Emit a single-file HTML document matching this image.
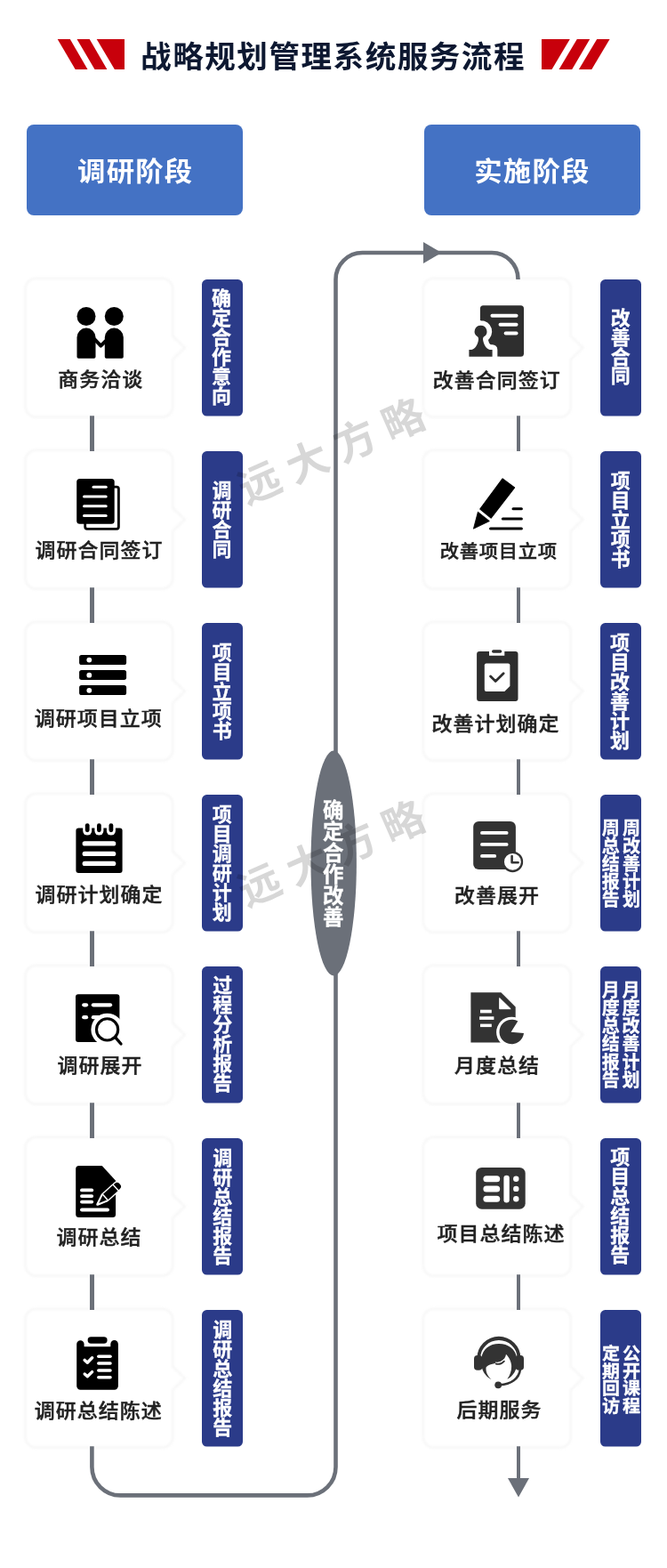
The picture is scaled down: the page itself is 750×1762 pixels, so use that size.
<!DOCTYPE html>
<html lang="zh-CN">
<head>
<meta charset="utf-8">
<meta name="viewport" content="width=750">
<title>战略规划管理系统服务流程</title>
<style>
*{margin:0;padding:0;box-sizing:border-box}
html,body{width:750px;height:1762px;background:#fff;overflow:hidden}
body{font-family:"Liberation Sans","Noto Sans CJK SC",sans-serif}
#page{position:relative;width:750px;height:1762px;overflow:hidden;background:#fff;will-change:transform;-webkit-font-smoothing:antialiased}
#page>svg{position:absolute;left:0;top:0}
ol{list-style:none}
.t{position:absolute;white-space:nowrap;line-height:1;transform-origin:0 0;font-style:normal}
.cap{font-size:23px;letter-spacing:1px;font-weight:500;-webkit-text-stroke:.45px currentColor;transform:scale(1,.955)}
.caps{font-size:21.3px;letter-spacing:.7px;font-weight:500;-webkit-text-stroke:.45px currentColor;transform:scale(1,.955)}
.title{font-size:34.6px;letter-spacing:1.5px;font-weight:700}
.stage{font-size:31.4px;letter-spacing:1.15px;font-weight:700;transform:scale(1,.945)}
.v22{width:22px;font-size:22px;line-height:22px;font-weight:700;white-space:normal;word-break:break-all;text-align:center;-webkit-text-stroke:.3px currentColor}
.v20{width:20px;font-size:20px;line-height:20px;font-weight:700;white-space:normal;word-break:break-all;text-align:center;-webkit-text-stroke:.3px currentColor}
.vell{width:23.5px;font-size:23.5px;line-height:24px;font-weight:700;white-space:normal;word-break:break-all;text-align:center;-webkit-text-stroke:.3px currentColor}
.title{color:#0d1831}
.stage,.lab{color:#fff}
.cap,.caps{color:#222222}
.wm{position:absolute;white-space:nowrap;font-size:47px;font-weight:700;letter-spacing:11.8px;text-indent:11.8px;color:rgba(0,0,0,.155);transform:rotate(-23.7deg);transform-origin:50% 50%;width:300px;text-align:center;height:60px;line-height:60px}
</style>
</head>
<body>
<div id="page">
<svg width="750" height="1762" viewBox="0 0 750 1762" aria-hidden="true">
<g fill="#c8000b"><polygon points="64.7,44 78.8,44 98.5,78 84.7,78"/><polygon points="86.5,44 100.7,44 120.4,78 106.5,78"/><polygon points="108.7,44 140,44 140,78 128.9,78"/><polygon points="609,44 640.8,44 620.5,78 609,78"/><polygon points="648.8,44 663.2,44 643.2,78 628.5,78"/><polygon points="671.2,44 685.6,44 665.3,78 650.9,78"/></g>
<g fill="#4472c4"><rect x="30" y="140" width="243" height="102" rx="8"/><rect x="477" y="140" width="243" height="102" rx="8"/></g>
<g fill="#fff" stroke="#f7f7f7" stroke-width="2.6" style="filter:blur(0.8px)"><path d="M40.5,312.7H182.3A12,12 0 0 1 194.3,324.7V377.7L207.9,390.7L194.3,403.7V456.6A12,12 0 0 1 182.3,468.6H40.5A12,12 0 0 1 28.5,456.6V324.7A12,12 0 0 1 40.5,312.7Z"/><path d="M40.5,505.7H182.3A12,12 0 0 1 194.3,517.7V570.7L207.9,583.7L194.3,596.7V649.6A12,12 0 0 1 182.3,661.6H40.5A12,12 0 0 1 28.5,649.6V517.7A12,12 0 0 1 40.5,505.7Z"/><path d="M40.5,698.7H182.3A12,12 0 0 1 194.3,710.7V763.7L207.9,776.7L194.3,789.7V842.6A12,12 0 0 1 182.3,854.6H40.5A12,12 0 0 1 28.5,842.6V710.7A12,12 0 0 1 40.5,698.7Z"/><path d="M40.5,891.7H182.3A12,12 0 0 1 194.3,903.7V956.7L207.9,969.7L194.3,982.7V1035.6A12,12 0 0 1 182.3,1047.6H40.5A12,12 0 0 1 28.5,1035.6V903.7A12,12 0 0 1 40.5,891.7Z"/><path d="M40.5,1084.7H182.3A12,12 0 0 1 194.3,1096.7V1149.7L207.9,1162.7L194.3,1175.7V1228.6A12,12 0 0 1 182.3,1240.6H40.5A12,12 0 0 1 28.5,1228.6V1096.7A12,12 0 0 1 40.5,1084.7Z"/><path d="M40.5,1277.7H182.3A12,12 0 0 1 194.3,1289.7V1342.7L207.9,1355.7L194.3,1368.7V1421.6A12,12 0 0 1 182.3,1433.6H40.5A12,12 0 0 1 28.5,1421.6V1289.7A12,12 0 0 1 40.5,1277.7Z"/><path d="M40.5,1470.7H182.3A12,12 0 0 1 194.3,1482.7V1535.7L207.9,1548.7L194.3,1561.7V1614.6A12,12 0 0 1 182.3,1626.6H40.5A12,12 0 0 1 28.5,1614.6V1482.7A12,12 0 0 1 40.5,1470.7Z"/><path d="M487.8,312.7H629.9A12,12 0 0 1 641.9,324.7V377.7L655.5,390.7L641.9,403.7V456.6A12,12 0 0 1 629.9,468.6H487.8A12,12 0 0 1 475.8,456.6V324.7A12,12 0 0 1 487.8,312.7Z"/><path d="M487.8,505.7H629.9A12,12 0 0 1 641.9,517.7V570.7L655.5,583.7L641.9,596.7V649.6A12,12 0 0 1 629.9,661.6H487.8A12,12 0 0 1 475.8,649.6V517.7A12,12 0 0 1 487.8,505.7Z"/><path d="M487.8,698.7H629.9A12,12 0 0 1 641.9,710.7V763.7L655.5,776.7L641.9,789.7V842.6A12,12 0 0 1 629.9,854.6H487.8A12,12 0 0 1 475.8,842.6V710.7A12,12 0 0 1 487.8,698.7Z"/><path d="M487.8,891.7H629.9A12,12 0 0 1 641.9,903.7V956.7L655.5,969.7L641.9,982.7V1035.6A12,12 0 0 1 629.9,1047.6H487.8A12,12 0 0 1 475.8,1035.6V903.7A12,12 0 0 1 487.8,891.7Z"/><path d="M487.8,1084.7H629.9A12,12 0 0 1 641.9,1096.7V1149.7L655.5,1162.7L641.9,1175.7V1228.6A12,12 0 0 1 629.9,1240.6H487.8A12,12 0 0 1 475.8,1228.6V1096.7A12,12 0 0 1 487.8,1084.7Z"/><path d="M487.8,1277.7H629.9A12,12 0 0 1 641.9,1289.7V1342.7L655.5,1355.7L641.9,1368.7V1421.6A12,12 0 0 1 629.9,1433.6H487.8A12,12 0 0 1 475.8,1421.6V1289.7A12,12 0 0 1 487.8,1277.7Z"/><path d="M487.8,1470.7H629.9A12,12 0 0 1 641.9,1482.7V1535.7L655.5,1548.7L641.9,1561.7V1614.6A12,12 0 0 1 629.9,1626.6H487.8A12,12 0 0 1 475.8,1614.6V1482.7A12,12 0 0 1 487.8,1470.7Z"/></g>
<g fill="#2b3b89"><rect x="227" y="314.1" width="46" height="153.5" rx="5.5"/><rect x="227" y="507.1" width="46" height="153.5" rx="5.5"/><rect x="227" y="700.1" width="46" height="153.5" rx="5.5"/><rect x="227" y="893.1" width="46" height="153.5" rx="5.5"/><rect x="227" y="1086.1" width="46" height="153.5" rx="5.5"/><rect x="227" y="1279.1" width="46" height="153.5" rx="5.5"/><rect x="227" y="1472.1" width="46" height="153.5" rx="5.5"/><rect x="675" y="314.1" width="46" height="153.5" rx="5.5"/><rect x="675" y="507.1" width="46" height="153.5" rx="5.5"/><rect x="675" y="700.1" width="46" height="153.5" rx="5.5"/><rect x="675" y="893.1" width="46" height="153.5" rx="5.5"/><rect x="675" y="1086.1" width="46" height="153.5" rx="5.5"/><rect x="675" y="1279.1" width="46" height="153.5" rx="5.5"/><rect x="675" y="1472.1" width="46" height="153.5" rx="5.5"/></g>
<g id="ico-L1"><g fill="#000"><circle cx="97" cy="355.5" r="10.5"/><circle cx="128.3" cy="355.5" r="10.5"/><path d="M86.5,379.1a10.5,10.5 0 0 1 21,0V401a1.8,1.8 0 0 1 -1.8,1.8H88.3a1.8,1.8 0 0 1 -1.8,-1.8Z"/><path d="M117.8,379.1a10.5,10.5 0 0 1 21,0V401a1.8,1.8 0 0 1 -1.8,1.8H119.6a1.8,1.8 0 0 1 -1.8,-1.8Z"/><path d="M106,380.8L113.4,388.6L119,383" fill="none" stroke="#000" stroke-width="4" stroke-linejoin="round"/></g></g>
<g id="ico-L2"><rect x="95.7" y="547.1" width="37.7" height="47.2" rx="2.2" fill="#fff" stroke="#000" stroke-width="2.8"/><rect x="86.2" y="537.9" width="42.5" height="50.9" rx="3.5" fill="#000"/><g stroke="#fff" stroke-width="3" stroke-linecap="round"><line x1="105" y1="547.2" x2="119.2" y2="547.2"/><line x1="94.5" y1="558.1" x2="119.2" y2="558.1"/><line x1="94.5" y1="568.7" x2="119.2" y2="568.7"/><line x1="94.5" y1="579.5" x2="119.2" y2="579.5"/></g></g>
<g id="ico-L3"><g fill="#000"><rect x="89.1" y="736" width="53" height="11.1" rx="2.6"/><rect x="89.1" y="753" width="53" height="11.1" rx="2.6"/><rect x="89.1" y="770.1" width="53" height="11" rx="2.6"/></g><g fill="#fff"><circle cx="100.3" cy="741.6" r="2.9"/><circle cx="100.3" cy="758.7" r="2.9"/><circle cx="100.3" cy="775.8" r="2.9"/></g></g>
<g id="ico-L4"><rect x="85.4" y="930.6" width="52.2" height="50.3" rx="3" fill="#000"/><g stroke="#fff" stroke-width="10" stroke-linecap="round"><line x1="98.2" y1="927" x2="98.2" y2="933.6"/><line x1="111.4" y1="927" x2="111.4" y2="933.6"/><line x1="124.9" y1="927" x2="124.9" y2="933.6"/></g><g stroke="#000" stroke-width="4.8" stroke-linecap="round"><line x1="98.2" y1="927.6" x2="98.2" y2="932.8"/><line x1="111.4" y1="927.6" x2="111.4" y2="932.8"/><line x1="124.9" y1="927.6" x2="124.9" y2="932.8"/></g><g stroke="#fff" stroke-width="5.2" stroke-linecap="round"><line x1="95.2" y1="947.9" x2="127.7" y2="947.9"/><line x1="95.2" y1="959.4" x2="127.7" y2="959.4"/><line x1="95.2" y1="970.4" x2="127.7" y2="970.4"/></g></g>
<g id="ico-L5"><rect x="85" y="1117.2" width="49.4" height="53.7" rx="3" fill="#000"/><g stroke="#fff" stroke-width="4.3" stroke-linecap="round"><line x1="94.3" y1="1129.3" x2="97" y2="1129.3"/><line x1="104.9" y1="1129.3" x2="124" y2="1129.3"/><line x1="94.3" y1="1143.2" x2="97" y2="1143.2"/><line x1="104.9" y1="1143.2" x2="114" y2="1143.2"/></g><circle cx="120.6" cy="1156.9" r="18.2" fill="#fff"/><circle cx="120.6" cy="1156.9" r="12.1" fill="#fff" stroke="#000" stroke-width="3.1"/><line x1="129.6" y1="1165.6" x2="136" y2="1173" stroke="#000" stroke-width="3.3" stroke-linecap="round"/></g>
<g id="ico-L6"><path d="M88.7,1309.9H114.7L130.1,1326.8V1364.5a3.5,3.5 0 0 1 -3.5,3.5H88.7a3.5,3.5 0 0 1 -3.5,-3.5V1313.4a3.5,3.5 0 0 1 3.5,-3.5Z" fill="#000"/><g stroke="#fff" stroke-width="3.9" stroke-linecap="round"><line x1="92" y1="1337.4" x2="103.2" y2="1337.4"/><line x1="92" y1="1344.1" x2="103.2" y2="1344.1"/><line x1="92" y1="1350.6" x2="103.2" y2="1350.6"/><line x1="92" y1="1359.5" x2="121" y2="1359.5"/></g><g transform="translate(109.3,1353.7) rotate(-42.5)"><path d="M0.5,0L11.5,-4.2V4.2Z M13,-4.2H27.6V4.2H13Z M29,-4.2H30.6a3.8,3.8 0 0 1 3.8,3.8V0.4a3.8,3.8 0 0 1 -3.8,3.8H29Z" fill="#fff" stroke="#fff" stroke-width="2.8" stroke-linejoin="round"/><path d="M2.6,0L11.5,-3.5V3.5Z M13,-4.2H27.6V4.2H13Z M29,-4.2H30.6a3.8,3.8 0 0 1 3.8,3.8V0.4a3.8,3.8 0 0 1 -3.8,3.8H29Z" fill="#000"/></g></g>
<g id="ico-L7"><path d="M90.4,1506.2a4.2,4.2 0 0 1 4.2,4.2V1513.2H124.3V1510.4a4.3,4.3 0 0 1 8.6,0V1557.5a4.2,4.2 0 0 1 -4.2,4.2H90.4a4.2,4.2 0 0 1 -4.2,-4.2V1510.4a4.2,4.2 0 0 1 4.2,-4.2Z" fill="#000"/><rect x="98.6" y="1502.3" width="22" height="7.4" rx="3.7" fill="#000"/><g stroke="#fff" stroke-width="3.5" stroke-linecap="round"><line x1="110.8" y1="1524.3" x2="124" y2="1524.3"/><line x1="110.8" y1="1532.1" x2="124" y2="1532.1"/><line x1="110.8" y1="1540" x2="124" y2="1540"/><line x1="110.8" y1="1547.8" x2="124" y2="1547.8"/></g><g fill="none" stroke="#fff" stroke-width="3.4" stroke-linecap="round" stroke-linejoin="round"><path d="M95.2,1528.4L98.3,1531.2L103.6,1525.8"/><path d="M95.2,1544L98.3,1546.8L103.6,1541.6"/></g></g>
<g id="ico-R1"><rect x="539.9" y="343.3" width="49.1" height="57.5" rx="3.5" fill="#2e2e2e"/><g stroke="#fff" stroke-width="3.9" stroke-linecap="round"><line x1="553.4" y1="354.7" x2="580.6" y2="354.7"/><line x1="562.5" y1="364.7" x2="580.6" y2="364.7"/><line x1="568.6" y1="374.5" x2="580.6" y2="374.5"/></g><path id="stampR1" d="M540.6,365.7a6.8,6.8 0 0 1 3.6,12.6c-1.2,0.9 -1.4,2.6 -0.9,4.6c1,4.6 3.6,9.2 7.6,10H553.6V400.8H527.4V392.9H530.2c4,-0.8 6.6,-5.4 7.6,-10c0.5,-2 0.3,-3.7 -0.9,-4.6a6.8,6.8 0 0 1 3.7,-12.6Z" fill="#fff" stroke="#fff" stroke-width="11.5" stroke-linejoin="round"/><rect x="520" y="400.8" width="42" height="8" fill="#fff"/><path d="M540.6,365.7a6.8,6.8 0 0 1 3.6,12.6c-1.2,0.9 -1.4,2.6 -0.9,4.6c1,4.6 3.6,9.2 7.6,10H553.6V400.8H527.4V392.9H530.2c4,-0.8 6.6,-5.4 7.6,-10c0.5,-2 0.3,-3.7 -0.9,-4.6a6.8,6.8 0 0 1 3.7,-12.6Z" fill="#2e2e2e"/></g>
<g id="ico-R2"><g fill="#000"><path d="M565.1,537.9L578.6,547.9L552.1,582.1L539.8,572.1Z" stroke="#000" stroke-width="1.2" stroke-linejoin="round"/><path d="M537.4,575.2L550.4,585.6L532.4,594.2Z" stroke="#000" stroke-width="0.8" stroke-linejoin="round"/></g><g stroke="#000" stroke-width="3" stroke-linecap="round"><line x1="577" y1="571.7" x2="586.4" y2="571.7"/><line x1="565.3" y1="583.1" x2="586.4" y2="583.1"/><line x1="551.5" y1="594.1" x2="586.4" y2="594.1"/></g></g>
<g id="ico-R3"><path d="M539.1,732.1H550V736.8H567.3V732.1H579.5a3,3 0 0 1 3,3V785a3,3 0 0 1 -3,3H539.1a3,3 0 0 1 -3,-3V735.1a3,3 0 0 1 3,-3Z" fill="#2e2e2e"/><rect x="553" y="730.2" width="11.3" height="3.6" rx="1.8" fill="#2e2e2e"/><path d="M546.8,745.5H571.4a2,2 0 0 1 2,2V771.1L567.3,777.1H546.8a2,2 0 0 1 -2,-2V747.5a2,2 0 0 1 2,-2Z" fill="#fff"/><path d="M551.6,759.9L557.2,765.6L566.1,756.8" fill="none" stroke="#2e2e2e" stroke-width="2.8" stroke-linecap="round" stroke-linejoin="round"/></g>
<g id="ico-R4"><rect x="532.2" y="922.9" width="47.7" height="54" rx="6" fill="#333"/><g stroke="#fff" stroke-width="3.9" stroke-linecap="round"><line x1="542" y1="935.9" x2="569.6" y2="935.9"/><line x1="542" y1="948.9" x2="569.6" y2="948.9"/><line x1="542" y1="961.9" x2="556.2" y2="961.9"/></g><circle cx="576.4" cy="968.4" r="10.6" fill="#fff" stroke="#333" stroke-width="2.3"/><path d="M575.6,962V969.3H582.6" fill="none" stroke="#333" stroke-width="2.6" stroke-linecap="round" stroke-linejoin="round"/></g>
<g id="ico-R5"><path d="M529.4,1115.3H563.4L579.7,1131.5V1171.4H529.4Z" fill="#333"/><path d="M561.7,1121.5V1133.7H574.2Z" fill="#fff" stroke="#fff" stroke-width="1" stroke-linejoin="round"/><g fill="#fff"><rect x="540" y="1134.7" width="12.8" height="3.7"/><rect x="539.1" y="1142.3" width="16.3" height="3.6"/><rect x="540" y="1150.6" width="12.8" height="3.5"/></g><circle cx="575.3" cy="1160" r="17.2" fill="#fff"/><path d="M574.6,1159.8L582.3,1147.6A13.8,13.8 0 1 0 589,1161Z" fill="#333"/></g>
<g id="ico-R6"><rect x="535.2" y="1311.9" width="55.5" height="46.8" rx="6.5" fill="#333"/><g stroke="#fff" stroke-linecap="round"><g stroke-width="7"><line x1="546.9" y1="1324.7" x2="558.7" y2="1324.7"/><line x1="546.9" y1="1335.9" x2="558.7" y2="1335.9"/><line x1="546.9" y1="1347.2" x2="558.7" y2="1347.2"/></g><line x1="569.6" y1="1324" x2="569.6" y2="1348.3" stroke-width="6.4"/></g><g fill="#fff"><circle cx="580.3" cy="1324.7" r="3.2"/><circle cx="580.3" cy="1335.9" r="3.2"/><circle cx="580.3" cy="1347.2" r="3.2"/></g></g>
<g id="ico-R7"><g fill="#333"><path d="M536.4,1526A24.5,24.2 0 0 1 585.4,1526L581.6,1526A20.7,20 0 0 0 540.2,1526Z"/><rect x="533" y="1523.1" width="9.4" height="16.6" rx="3.8"/><rect x="579.6" y="1523.1" width="9.4" height="16.6" rx="3.8"/><path d="M541,1530C541,1518 549,1510.1 561,1510.1C573,1510.1 581.6,1518 581.6,1530C581.6,1539.5 577,1546.5 570.3,1549.8C574,1545 575.6,1539 575,1533.5C574.2,1528.5 571.8,1524.5 569,1521.8C568.6,1525.8 565.5,1529.5 560.5,1531C555.5,1532.6 549.5,1532.8 546.6,1536.4C545.8,1541.4 548.6,1546.6 552.6,1550.2C545.6,1546.8 541,1539.5 541,1530Z"/><circle cx="560.2" cy="1556.3" r="3.9"/></g><path d="M584.8,1539.5C583.7,1549 574.5,1555.6 562,1556.2" fill="none" stroke="#333" stroke-width="2.6" stroke-linecap="round"/><path d="M557.4,1531C560.6,1531.6 564.6,1530.2 566.8,1527.8" fill="none" stroke="#fff" stroke-width="1.1" stroke-linecap="round"/><path d="M557.8,1532.6C561,1533.4 564.6,1532.2 566.9,1529.6" fill="none" stroke="#333" stroke-width="1.8" stroke-linecap="round"/></g>
<g fill="none" stroke="#6b7079"><path d="M103.5,467.3V507.1M103.5,660.3V700.1M103.5,853.3V893.1M103.5,1046.3V1086.1M103.5,1239.3V1279.1M103.5,1432.3V1472.1" stroke-width="5"/><path d="M583,467.3V507.1M583,660.3V700.1M583,853.3V893.1M583,1046.3V1086.1M583,1239.3V1279.1M583,1432.3V1472.1M583,1625.3V1662" stroke-width="4"/><path d="M103.4,1625.3V1648.4A32,32 0 0 0 135.4,1680.4H345.5A32,32 0 0 0 377.5,1648.4V314A30,30 0 0 1 407.5,284H553A29.5,29.5 0 0 1 582.5,313.5V313.9" stroke-width="4.6"/></g>
<g fill="#6b7079"><polygon points="476,272 496.5,284 476,296"/><polygon points="571,1661 595,1661 583,1682.5"/><ellipse cx="375.2" cy="970" rx="25.7" ry="126.5"/></g>
</svg>
<div class="wm" style="left:222.7px;top:478.1px">远大方略</div>
<div class="wm" style="left:222.7px;top:930.1px">远大方略</div>
<h1 class="t title" style="left:158.1px;top:47.42px">战略规划管理系统服务流程</h1>
<section class="col research">
<h2 class="t stage" style="left:87.1px;top:178.47px">调研阶段</h2>
<ol>
<li><h3 class="t cap" style="left:65.33px;top:416.1px">商务洽谈</h3><p class="t v22 lab" style="left:238.1px;top:324.85px;height:132px;transform:scale(1,1.0015)">确定合作意向</p></li>
<li><h3 class="t cap" style="left:39.38px;top:608.12px">调研合同签订</h3><p class="t v22 lab" style="left:238.5px;top:541.15px;height:88px;transform:scale(1,0.9948)">调研合同</p></li>
<li><h3 class="t cap" style="left:38.78px;top:796.83px">调研项目立项</h3><p class="t v22 lab" style="left:238.82px;top:722.8px;height:110px;transform:scale(1,1.0046)">项目立项书</p></li>
<li><h3 class="t cap" style="left:39.38px;top:995.42px">调研计划确定</h3><p class="t v22 lab" style="left:238.82px;top:904.9px;height:132px;transform:scale(1,1.0004)">项目调研计划</p></li>
<li><h3 class="t cap" style="left:64.6px;top:1186.75px">调研展开</h3><p class="t v22 lab" style="left:239.2px;top:1096.85px;height:132px;transform:scale(1,1.0015)">过程分析报告</p></li>
<li><h3 class="t cap" style="left:63.62px;top:1380px">调研总结</h3><p class="t v22 lab" style="left:239.3px;top:1291.4px;height:132px;transform:scale(1,0.9966)">调研总结报告</p></li>
<li><h3 class="t cap" style="left:38.78px;top:1574.92px">调研总结陈述</h3><p class="t v22 lab" style="left:239.3px;top:1484.4px;height:132px;transform:scale(1,0.9966)">调研总结报告</p></li>
</ol>
</section>
<p class="t vell lab" style="left:363.12px;top:898.85px;height:144px;transform:scale(1,1.0021)">确定合作改善</p>
<section class="col implement">
<h2 class="t stage" style="left:533.3px;top:178.47px">实施阶段</h2>
<ol>
<li><h3 class="t cap" style="left:486.65px;top:417.12px">改善合同签订</h3><p class="t v22 lab" style="left:686.77px;top:346.64px;height:88px;transform:scale(1,0.9931)">改善合同</p></li>
<li><h3 class="t caps" style="left:494.65px;top:610.7px">改善项目立项</h3><p class="t v22 lab" style="left:686.83px;top:529.8px;height:110px;transform:scale(1,1.0046)">项目立项书</p></li>
<li><h3 class="t cap" style="left:485.55px;top:802.62px">改善计划确定</h3><p class="t v22 lab" style="left:686px;top:711.9px;height:132px;transform:scale(1,1.0004)">项目改善计划</p></li>
<li><h3 class="t cap" style="left:511.08px;top:996.3px">改善展开</h3><p class="t v20 lab" style="left:699.9px;top:920.78px;height:100px;transform:scale(1,0.9989)">周改善计划</p><p class="t v20 lab" style="left:676.7px;top:920.78px;height:100px;transform:scale(1,0.9989)">周总结报告</p></li>
<li><h3 class="t cap" style="left:511.08px;top:1187.25px">月度总结</h3><p class="t v20 lab" style="left:699.5px;top:1102.5px;height:120px;transform:scale(1,1.0055)">月度改善计划</p><p class="t v20 lab" style="left:676.7px;top:1102.5px;height:120px;transform:scale(1,1.0055)">月度总结报告</p></li>
<li><h3 class="t cap" style="left:491.52px;top:1376.25px">项目总结陈述</h3><p class="t v22 lab" style="left:686.3px;top:1289.7px;height:132px;transform:scale(1,1.0012)">项目总结报告</p></li>
<li><h3 class="t cap" style="left:513.4px;top:1574.2px">后期服务</h3><p class="t v20 lab" style="left:699.98px;top:1510.84px;height:80px;transform:scale(1,0.9893)">公开课程</p><p class="t v20 lab" style="left:677.02px;top:1510.84px;height:80px;transform:scale(1,0.9893)">定期回访</p></li>
</ol>
</section>
</div>
</body>
</html>
